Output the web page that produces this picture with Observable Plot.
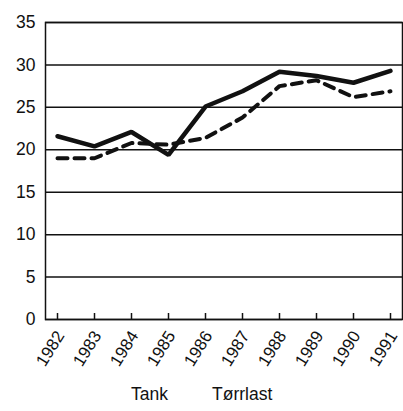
<!DOCTYPE html>
<html>
<head>
<meta charset="utf-8">
<script src="https://cdn.jsdelivr.net/npm/d3@7"></script>
<script src="https://cdn.jsdelivr.net/npm/@observablehq/plot@0.6"></script>
<style>
  body { margin: 0; background: #fff; font-family: "Liberation Sans", Arial, sans-serif; }
  #wrap { position: relative; width: 403px; height: 411px; }
  .leg { position: absolute; font-size: 17.5px; color: #111; top: 384px; }
</style>
</head>
<body>
<div id="wrap"></div>
<script>
const years = [1982, 1983, 1984, 1985, 1986, 1987, 1988, 1989, 1990, 1991];
const tank = [21.6, 20.4, 22.1, 19.4, 25.1, 26.9, 29.2, 28.7, 27.9, 29.3];
const torrlast = [19.0, 19.0, 20.8, 20.6, 21.4, 23.8, 27.5, 28.2, 26.2, 26.9];
const yTicks = [0, 5, 10, 15, 20, 25, 30, 35];
const seriesNames = ["Tank", "Tørrlast"];

const rows = [];
years.forEach((yr, i) => {
  rows.push({ year: String(yr), value: tank[i], series: seriesNames[0] });
  rows.push({ year: String(yr), value: torrlast[i], series: seriesNames[1] });
});

const chart = Plot.plot({
  width: 403,
  height: 375,
  marginLeft: 45,
  marginRight: 1,
  marginTop: 22,
  marginBottom: 56,
  style: { fontFamily: "'Liberation Sans', Arial, sans-serif", fontSize: "17.5px", color: "#111", background: "#fff", overflow: "visible" },
  x: { type: "point", domain: years.map(String), padding: 0.3 },
  y: { domain: [0, 35] },
  marks: [
    Plot.ruleY(yTicks, { stroke: "#111", strokeWidth: 1.5 }),
    Plot.frame({ stroke: "#111", strokeWidth: 1.5 }),
    Plot.axisY(yTicks, { tickSize: 0, tickPadding: 10, label: null, fontSize: 17.5 }),
    Plot.axisX({ tickSize: 6, dy: -6, text: null, label: null, stroke: "#111", strokeWidth: 1.5 }),
    Plot.axisX({ tickSize: 0, tickPadding: 13, dx: 3, tickRotate: -58, label: null, fontSize: 17 }),
    Plot.line(rows.filter(d => d.series === seriesNames[1]), {
      x: "year", y: "value", stroke: "#111", strokeWidth: 4, strokeDasharray: "10,7", strokeLinejoin: "miter"
    }),
    Plot.line(rows.filter(d => d.series === seriesNames[0]), {
      x: "year", y: "value", stroke: "#111", strokeWidth: 4.5, strokeLinejoin: "miter"
    })
  ]
});

const wrap = document.getElementById("wrap");
wrap.appendChild(chart);
const l1 = document.createElement("div");
l1.className = "leg"; l1.style.left = "131px"; l1.textContent = seriesNames[0];
const l2 = document.createElement("div");
l2.className = "leg"; l2.style.left = "212px"; l2.textContent = seriesNames[1];
wrap.appendChild(l1); wrap.appendChild(l2);
</script>
</body>
</html>
